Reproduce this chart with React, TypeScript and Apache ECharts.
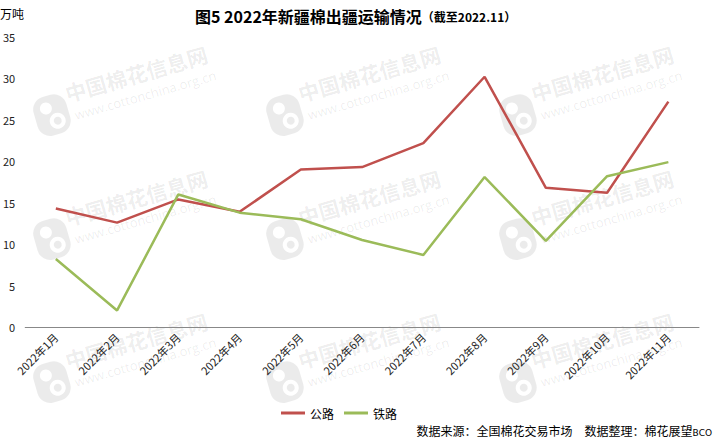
import React, { useEffect, useRef } from "react";
import * as echarts from "echarts";

const categories = [
  "2022年1月", "2022年2月", "2022年3月", "2022年4月", "2022年5月", "2022年6月",
  "2022年7月", "2022年8月", "2022年9月", "2022年10月", "2022年11月",
];
const roadValues = [14.3, 12.6, 15.4, 13.9, 19.0, 19.3, 22.2, 30.2, 16.8, 16.2, 27.2];
const railValues = [8.2, 2.0, 16.0, 13.8, 13.0, 10.5, 8.7, 18.1, 10.4, 18.2, 19.9];
const yMin = 0;
const yMax = 35;
const yInterval = 5;

const FONT = "'Noto Sans CJK SC', 'Noto Sans', sans-serif";
const WM = "rgba(0,0,0,0.08)";

function watermark(x: number, y: number) {
  return {
    type: "group",
    x,
    y,
    rotation: 0.28,
    z: 0,
    silent: true,
    children: [
      { type: "rect", shape: { x: -2, y: 0, width: 34, height: 40, r: 13 }, style: { fill: WM } },
      { type: "circle", shape: { cx: 11, cy: 12, r: 6 }, style: { fill: "#fff" } },
      { type: "circle", shape: { cx: 19, cy: 27, r: 8 }, style: { fill: "#fff" } },
      { type: "circle", shape: { cx: 19, cy: 27, r: 4 }, style: { fill: WM } },
      {
        type: "text",
        x: 34,
        y: -7,
        style: { text: "中国棉花信息网", fontSize: 21, fontWeight: "bold", fill: WM, fontFamily: FONT },
      },
      {
        type: "text",
        x: 37,
        y: 20,
        style: { text: "www.cottonchina.org.cn", fontSize: 13, fill: WM, fontFamily: "'Open Sans', sans-serif" },
      },
    ],
  };
}

export default function App() {
  const ref = useRef<HTMLDivElement>(null);
  useEffect(() => {
    if (!ref.current) return;
    const chart = echarts.init(ref.current, null, { renderer: "svg" });
    const wms: any[] = [];
    const cols = [32, 265, 498];
    const rows = [100, 224, 367];
    for (const r of rows) for (const c of cols) wms.push(watermark(c, r));
    chart.setOption({
      animation: false,
      backgroundColor: "#fff",
      textStyle: { fontFamily: FONT },
      title: {
        left: 190,
        top: 3,
        text: "{a|图5 2022年新疆棉出疆运输情况}{b|（截至2022.11）}",
        textStyle: {
          rich: {
            a: { fontSize: 16, fontWeight: "bold", color: "#000", fontFamily: FONT },
            b: { fontSize: 12, fontWeight: "bold", color: "#000", fontFamily: FONT },
          },
        },
      },
      legend: {
        left: 276,
        top: 402,
        icon: "rect",
        itemWidth: 24,
        itemHeight: 3,
        itemGap: 10,
        textStyle: { fontSize: 12, color: "#000", fontFamily: FONT },
        data: ["公路", "铁路"],
      },
      grid: { left: 25, right: 21, top: 37, bottom: 113, containLabel: false },
      xAxis: {
        type: "category",
        data: categories,
        boundaryGap: true,
        axisLine: { show: true, lineStyle: { color: "#888", width: 1 } },
        axisTick: { show: false },
        axisLabel: { rotate: 45, fontSize: 11, color: "#222", margin: 8, interval: 0, fontFamily: FONT },
        splitLine: { show: false },
      },
      yAxis: {
        type: "value",
        min: yMin,
        max: yMax,
        interval: yInterval,
        axisLine: { show: false },
        axisTick: { show: false },
        splitLine: { show: false },
        axisLabel: { fontSize: 11, color: "#222", margin: 10, fontFamily: FONT },
      },
      graphic: [
        ...wms,
        {
          type: "text",
          left: 0,
          top: 7,
          style: { text: "万吨", fontSize: 12, fill: "#000", fontFamily: FONT },
        },
        {
          type: "text",
          right: 8,
          top: 424,
          style: {
            text: "{a|数据来源：全国棉花交易市场　数据整理：棉花展望}{b|BCO}",
            rich: {
              a: { fontSize: 12, fill: "#000", fontFamily: FONT },
              b: { fontSize: 9, fill: "#000", fontFamily: "'DejaVu Sans', sans-serif", padding: [6, 0, 0, 0] },
            },
          },
        },
      ],
      series: [
        {
          name: "公路",
          type: "line",
          data: roadValues,
          symbol: "none",
          z: 5,
          lineStyle: { color: "#C0504D", width: 2.5 },
          itemStyle: { color: "#C0504D" },
        },
        {
          name: "铁路",
          type: "line",
          data: railValues,
          symbol: "none",
          z: 5,
          lineStyle: { color: "#9BBB59", width: 2.5 },
          itemStyle: { color: "#9BBB59" },
        },
      ],
    });
    return () => chart.dispose();
  }, []);
  return (
    <div
      ref={ref}
      style={{ position: "fixed", left: 0, top: 0, width: 720, height: 440, background: "#fff" }}
    />
  );
}
